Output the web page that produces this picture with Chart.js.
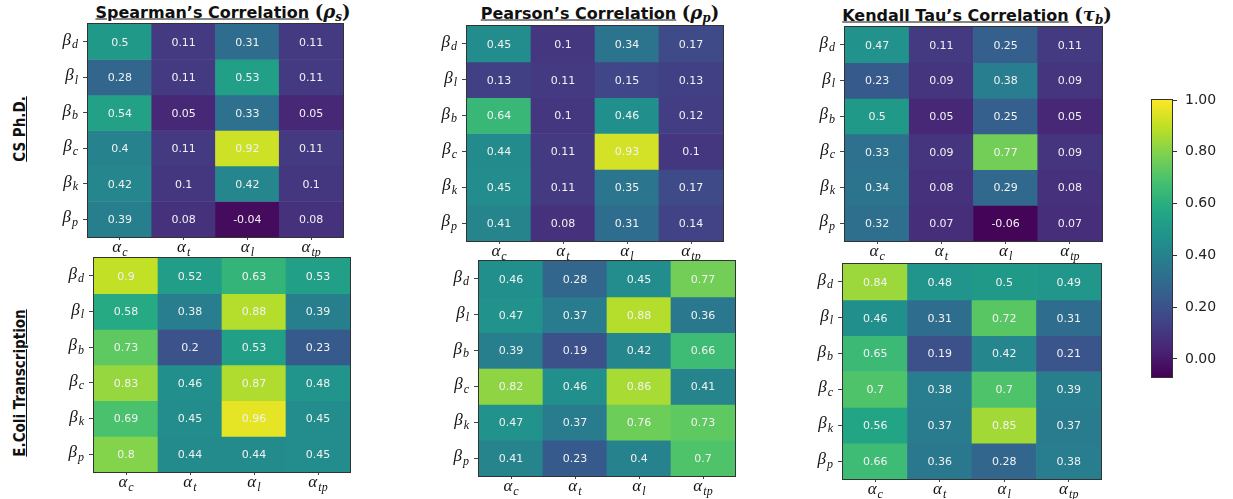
<!DOCTYPE html>
<html>
<head>
<meta charset="utf-8">
<script src="https://cdn.jsdelivr.net/npm/chart.js@4.4.1/dist/chart.umd.min.js"></script>
<style>
  body { margin: 0; background: #fff; width: 1233px; height: 499px; position: relative; overflow: hidden; }
  .box { position: absolute; }
  .title {
    position: absolute; transform: translate(-50%, -50%); white-space: nowrap;
    font: bold 16px "DejaVu Sans", sans-serif; color: #111;
  }
  .title .m { font: bold 18px "DejaVu Serif", serif; }
  .title .m i { font-style: italic; }
  .title sub { font-size: 12px; vertical-align: -3px; }
  .rowlab {
    position: absolute; white-space: nowrap;
    transform: translate(-50%, -50%) rotate(-90deg);
    font: bold 15px "Liberation Sans Narrow", "DejaVu Sans Condensed", sans-serif;
    font-stretch: condensed; color: #111;
  }
</style>
</head>
<body>

<div class="title" style="left:223px; top:12px;"><u>Spearman’s Correlation</u> <span class="m">(<i>ρ<sub>s</sub></i>)</span></div>
<div class="title" style="left:600px; top:13px;"><u>Pearson’s Correlation</u> <span class="m">(<i>ρ<sub>p</sub></i>)</span></div>
<div class="title" style="left:977px; top:15px;"><u>Kendall Tau’s Correlation</u> <span class="m">(<i>τ<sub>b</sub></i>)</span></div>

<div class="rowlab" style="left:20px; top:129px;"><u>CS Ph.D.</u></div>
<div class="rowlab" style="left:20px; top:383px;"><u>E.Coli Transcription</u></div>

<div id="charts"></div>

<script>
// axis labels (alpha columns, beta rows), drawn with subscripts
const alphaSubs = ['c', 't', 'l', 'tp'];
const betaSubs = ['d', 'l', 'b', 'c', 'k', 'p'];

// CS Ph.D. row
const csSpearman = [
    [0.5, 0.11, 0.31, 0.11],
    [0.28, 0.11, 0.53, 0.11],
    [0.54, 0.05, 0.33, 0.05],
    [0.4, 0.11, 0.92, 0.11],
    [0.42, 0.1, 0.42, 0.1],
    [0.39, 0.08, -0.04, 0.08]
];
const csPearson = [
    [0.45, 0.1, 0.34, 0.17],
    [0.13, 0.11, 0.15, 0.13],
    [0.64, 0.1, 0.46, 0.12],
    [0.44, 0.11, 0.93, 0.1],
    [0.45, 0.11, 0.35, 0.17],
    [0.41, 0.08, 0.31, 0.14]
];
const csKendall = [
    [0.47, 0.11, 0.25, 0.11],
    [0.23, 0.09, 0.38, 0.09],
    [0.5, 0.05, 0.25, 0.05],
    [0.33, 0.09, 0.77, 0.09],
    [0.34, 0.08, 0.29, 0.08],
    [0.32, 0.07, -0.06, 0.07]
];

// E.Coli Transcription row
const ecSpearman = [
    [0.9, 0.52, 0.63, 0.53],
    [0.58, 0.38, 0.88, 0.39],
    [0.73, 0.2, 0.53, 0.23],
    [0.83, 0.46, 0.87, 0.48],
    [0.69, 0.45, 0.96, 0.45],
    [0.8, 0.44, 0.44, 0.45]
];
const ecPearson = [
    [0.46, 0.28, 0.45, 0.77],
    [0.47, 0.37, 0.88, 0.36],
    [0.39, 0.19, 0.42, 0.66],
    [0.82, 0.46, 0.86, 0.41],
    [0.47, 0.37, 0.76, 0.73],
    [0.41, 0.23, 0.4, 0.7]
];
const ecKendall = [
    [0.84, 0.48, 0.5, 0.49],
    [0.46, 0.31, 0.72, 0.31],
    [0.65, 0.19, 0.42, 0.21],
    [0.7, 0.38, 0.7, 0.39],
    [0.56, 0.37, 0.85, 0.37],
    [0.66, 0.36, 0.28, 0.38]
];

// shared colour scale
const cbarMin = -0.07;
const cbarMax = 1.0;
const cbarTicks = [0, 0.2, 0.4, 0.6, 0.8, 1.0];

// viridis stops (colour map, not data)
const VIRIDIS = ['#440154', '#482475', '#414487', '#355f8d', '#2a788e', '#21918c',
                 '#22a884', '#44bf70', '#7ad151', '#bddf26', '#fde725'];

function hexToRgb(h) {
    return [parseInt(h.substr(1, 2), 16), parseInt(h.substr(3, 2), 16), parseInt(h.substr(5, 2), 16)];
}

function viridis(v) {
    let t = (v - cbarMin) / (cbarMax - cbarMin);
    t = Math.max(0, Math.min(1, t));
    const pos = t * (VIRIDIS.length - 1);
    const i = Math.min(Math.floor(pos), VIRIDIS.length - 2);
    const f = pos - i;
    const a = hexToRgb(VIRIDIS[i]), b = hexToRgb(VIRIDIS[i + 1]);
    const c = a.map((x, k) => Math.round(x + (b[k] - x) * f));
    return `rgb(${c[0]},${c[1]},${c[2]})`;
}

// draws "base" with a lowered subscript
function drawMath(ctx, base, sub, x, y, align) {
    const fBase = 'italic 17px "Liberation Serif", serif';
    const fSub = 'italic 12px "Liberation Serif", serif';
    ctx.font = fBase;
    const wb = ctx.measureText(base).width;
    ctx.font = fSub;
    const ws = ctx.measureText(sub).width;
    const total = wb + ws + 1;
    let x0 = align === 'right' ? x - total : x - total / 2;
    ctx.textAlign = 'left';
    ctx.textBaseline = 'alphabetic';
    ctx.fillStyle = '#111';
    ctx.font = fBase;
    ctx.fillText(base, x0, y);
    ctx.font = fSub;
    ctx.fillText(sub, x0 + wb + 1, y + 3.5);
}

const YW = 50;   // room for beta labels
const XH = 28;   // room for alpha labels
const PAD = 2;

// cell values, axis labels and frame
const heatPlugin = {
    id: 'heatLabels',
    afterDatasetsDraw(chart) {
        const ctx = chart.ctx;
        const area = chart.chartArea;
        ctx.save();
        ctx.font = '11px "DejaVu Sans", sans-serif';
        ctx.fillStyle = '#f2f2f2';
        ctx.textAlign = 'center';
        ctx.textBaseline = 'middle';
        chart.data.datasets.forEach((ds, r) => {
            chart.getDatasetMeta(r).data.forEach((el, c) => {
                ctx.fillText(String(ds.values[c]), el.x, (el.y + el.base) / 2 + 1);
            });
        });

        ctx.strokeStyle = '#333';
        ctx.lineWidth = 1;
        ctx.strokeRect(Math.round(area.left) - 0.5, Math.round(area.top) - 0.5,
                       Math.round(area.right - area.left) + 1, Math.round(area.bottom - area.top) + 1);

        const xs = chart.scales.x, ys = chart.scales.y;
        alphaSubs.forEach((s, i) => {
            drawMath(ctx, 'α', s, xs.getPixelForValue(i), area.bottom + 15, 'center');
        });
        betaSubs.forEach((s, i) => {
            drawMath(ctx, 'β', s, area.left - 10, ys.getPixelForValue(i + 0.5) + 3, 'right');
        });
        ctx.restore();
    }
};

function makeHeatmap(values, rect) {
    const [L, T, R, B] = rect;
    const box = document.createElement('div');
    box.className = 'box';
    const w = (R - L) + YW + PAD, h = (B - T) + XH + PAD;
    box.style.left = (L - YW) + 'px';
    box.style.top = (T - PAD) + 'px';
    const canvas = document.createElement('canvas');
    canvas.width = w;
    canvas.height = h;
    box.appendChild(canvas);
    document.getElementById('charts').appendChild(box);

    const yGrid = { drawOnChartArea: false, drawTicks: true, tickLength: 5, tickColor: '#444', tickWidth: 1 };
    const xGrid = { offset: false, drawOnChartArea: false, drawTicks: true, tickLength: 3, tickColor: '#444', tickWidth: 1 };

    return new Chart(canvas.getContext('2d'), {
        type: 'bar',
        data: {
            labels: alphaSubs,
            datasets: values.map((row, r) => ({
                data: row.map(() => [r, r + 1]),
                values: row,
                backgroundColor: row.map(viridis),
                borderWidth: 0,
                grouped: false,
                barPercentage: 1,
                categoryPercentage: 1
            }))
        },
        options: {
            responsive: false,
            animation: false,
            layout: { padding: { top: PAD, right: PAD, left: 0, bottom: 0 } },
            plugins: { legend: { display: false }, tooltip: { enabled: false } },
            scales: {
                x: {
                    type: 'category',
                    offset: true,
                    grid: xGrid,
                    border: { display: false },
                    ticks: { display: false },
                    afterFit: s => { s.height = XH; s.paddingLeft = 0; s.paddingRight = 0; }
                },
                y: {
                    type: 'linear',
                    min: 0,
                    max: betaSubs.length,
                    reverse: true,
                    afterBuildTicks: s => { s.ticks = betaSubs.map((_, i) => ({ value: i + 0.5 })); },
                    grid: yGrid,
                    border: { display: false },
                    ticks: { display: false },
                    afterFit: s => { s.width = YW; s.paddingTop = 0; s.paddingBottom = 0; }
                }
            }
        },
        plugins: [heatPlugin]
    });
}

makeHeatmap(csSpearman, [88, 24, 343, 237]);
makeHeatmap(csPearson, [467, 26, 723, 241]);
makeHeatmap(csKendall, [845, 27, 1102, 241]);
makeHeatmap(ecSpearman, [94, 258, 350, 472]);
makeHeatmap(ecPearson, [479, 261, 735, 476]);
makeHeatmap(ecKendall, [843, 264, 1101, 479]);

// colour bar
const gradientPlugin = {
    id: 'gradient',
    beforeDatasetsDraw(chart) {
        const ctx = chart.ctx;
        const a = chart.chartArea;
        const ys = chart.scales.y;
        const g = ctx.createLinearGradient(0, ys.getPixelForValue(cbarMin), 0, ys.getPixelForValue(cbarMax));
        VIRIDIS.forEach((c, i) => g.addColorStop(i / (VIRIDIS.length - 1), c));
        ctx.save();
        ctx.fillStyle = g;
        ctx.fillRect(a.left, a.top, a.right - a.left, a.bottom - a.top);
        ctx.strokeStyle = '#333';
        ctx.lineWidth = 1;
        ctx.strokeRect(Math.round(a.left) - 0.5, Math.round(a.top) - 0.5,
                       Math.round(a.right - a.left) + 1, Math.round(a.bottom - a.top) + 1);
        ctx.restore();
    }
};

(function makeColorbar() {
    const L = 1152, T = 100, R = 1172, B = 377;
    const padV = 10, labW = 60;
    const box = document.createElement('div');
    box.className = 'box';
    const w = (R - L) + labW + 1, h = (B - T) + 2 * padV;
    box.style.left = (L - 1) + 'px';
    box.style.top = (T - padV) + 'px';
    const canvas = document.createElement('canvas');
    canvas.width = w;
    canvas.height = h;
    box.appendChild(canvas);
    document.getElementById('charts').appendChild(box);

    new Chart(canvas.getContext('2d'), {
        type: 'bar',
        data: { labels: [''], datasets: [] },
        options: {
            responsive: false,
            animation: false,
            layout: { padding: { top: padV, bottom: padV, left: 1, right: 0 } },
            plugins: { legend: { display: false }, tooltip: { enabled: false } },
            scales: {
                x: { display: false },
                y: {
                    position: 'right',
                    min: cbarMin,
                    max: cbarMax,
                    afterBuildTicks: s => { s.ticks = cbarTicks.map(v => ({ value: v })); },
                    grid: { drawOnChartArea: false, drawTicks: true, tickLength: 5, tickColor: '#333' },
                    border: { display: false },
                    ticks: {
                        padding: 8,
                        color: '#222',
                        font: { family: 'DejaVu Sans', size: 14 },
                        callback: v => Number(v).toFixed(2)
                    },
                    afterFit: s => { s.width = labW; s.paddingTop = 0; s.paddingBottom = 0; }
                }
            }
        },
        plugins: [gradientPlugin]
    });
})();
</script>
</body>
</html>
